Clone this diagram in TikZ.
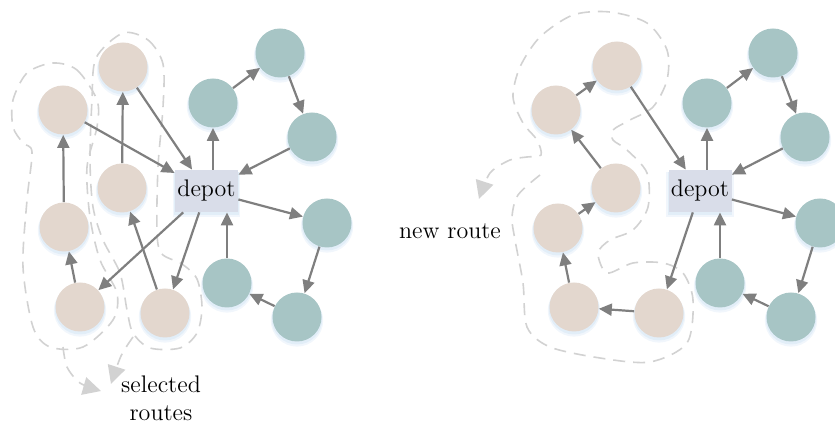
\documentclass[tikz,border=0pt]{standalone}
\usepackage{xcolor}
\usepackage{tikz}
\usetikzlibrary{arrows.meta,shadows}
\definecolor{RTbeige}{HTML}{E3D7CE}
\definecolor{RTteal}{HTML}{A7C5C5}
\definecolor{RTdepot}{HTML}{D9DDE9}
\definecolor{RTedge}{HTML}{7F7F7F}
\definecolor{RTdash}{HTML}{D2D2D2}
\definecolor{RTglow}{HTML}{C6DDF2}
\tikzset{
  glow/.style={general shadow={fill=RTglow, opacity=0.25, shadow scale=1.07, shadow yshift=-1.6pt},
               general shadow={fill=RTglow, opacity=0.35, shadow scale=1.03, shadow yshift=-1.1pt}},
  custnode/.style={circle, fill=RTbeige, minimum size=24.5pt, inner sep=0pt, glow},
  vehnode/.style={circle, fill=RTteal, minimum size=24.5pt, inner sep=0pt, glow},
  depotbox/.style={rectangle, fill=RTdepot, minimum width=31.5pt, minimum height=21pt, inner sep=0pt, font=\large, glow},
  routearr/.style={-{Triangle[length=6.5pt,width=6pt]}, line width=1.1pt, draw=RTedge},
  routeline/.style={draw=RTdash, line width=0.8pt, dash pattern=on 6pt off 4pt},
  routetip/.style={-{Triangle[length=9pt,width=9pt,fill=RTdash]}},
  lbl/.style={font=\large, align=center, inner sep=0pt}
}
\begin{document}
\begin{tikzpicture}[x=0.5pt,y=-0.5pt]
\useasboundingbox (0,0) rectangle (835,426);

% selected routes (left)
\draw[routeline] plot[smooth cycle] coordinates {(53,63) (77,70) (97,100) (97,127) (87,167) (90,217) (100,260) (117,293) (113,320) (83,347) (50,347) (33,327) (23,267) (27,200) (32,152) (23,143) (13,127) (13,100) (27,73)};
\draw[routeline] plot[smooth cycle] coordinates {(123,33) (148,40) (163,64) (163,107) (158,167) (157,233) (162,254) (182,264) (197,279) (202,307) (197,333) (180,348) (150,348) (133,333) (127,310) (120,273) (103,240) (93,207) (90,160) (92,100) (96,58)};
\draw[routeline, routetip] plot[smooth] coordinates {(63,347) (67,367) (80,383) (101,391)};
\draw[routeline, routetip] plot[smooth] coordinates {(133,337) (121,356) (111,384)};

% new route (right)
\draw[routeline, routetip] plot[smooth] coordinates {(540,175) (518,195) (512,217) (515,240) (523,283) (527,327) (550,347) (600,358) (650,362) (687,343) (693,300) (683,273) (663,263) (633,263) (607,273) (598,253) (610,240) (633,230) (648,207) (647,173) (627,150) (613,140) (613,130) (630,120) (653,107) (667,80) (667,50) (647,23) (610,12) (573,15) (540,37) (520,67) (513,97) (523,123) (537,140) (541,155) (527,157) (510,160) (490,173) (479,199)};

% left graph
\node[depotbox] (dep) at (206.5,191) {depot};
\node[custnode] (a1) at (63,110) {};
\node[custnode] (a2) at (123,67) {};
\node[custnode] (a3) at (122,188) {};
\node[custnode] (a4) at (64,227) {};
\node[custnode] (a5) at (80,307) {};
\node[custnode] (a6) at (165,313) {};
\node[vehnode] (t1) at (213,103) {};
\node[vehnode] (t2) at (280,53) {};
\node[vehnode] (t3) at (312,137) {};
\node[vehnode] (t4) at (327,223) {};
\node[vehnode] (t5) at (297,317) {};
\node[vehnode] (t6) at (227,283) {};

\draw[routearr] (a1) -- (dep);
\draw[routearr] (a2) -- (dep);
\draw[routearr] (a3) -- (a2);
\draw[routearr] (a4) -- (a1);
\draw[routearr] (a5) -- (a4);
\draw[routearr] (dep) -- (a5);
\draw[routearr] (dep) -- (a6);
\draw[routearr] (a6) -- (a3);
\draw[routearr] (dep.north -| t1) -- (t1);
\draw[routearr] (t1) -- (t2);
\draw[routearr] (t2) -- (t3);
\draw[routearr] (t3) -- (dep);
\draw[routearr] (dep) -- (t4);
\draw[routearr] (t4) -- (t5);
\draw[routearr] (t5) -- (t6);
\draw[routearr] (t6) -- (dep.south -| t6);

\node[lbl] (sel) at (161,398) {selected\\routes};

% right graph
\node[depotbox] (dep2) at (700,191) {depot};
\node[custnode] (b1) at (556,110) {};
\node[custnode] (b2) at (617,66) {};
\node[custnode] (b3) at (616,188) {};
\node[custnode] (b4) at (558,228) {};
\node[custnode] (b5) at (574,307) {};
\node[custnode] (b6) at (659,313) {};
\node[vehnode] (u1) at (707,103) {};
\node[vehnode] (u2) at (773,53) {};
\node[vehnode] (u3) at (805,137) {};
\node[vehnode] (u4) at (820,223) {};
\node[vehnode] (u5) at (791,317) {};
\node[vehnode] (u6) at (720,283) {};

\draw[routearr] (b2) -- (dep2);
\draw[routearr] (b1) -- (b2);
\draw[routearr] (b3) -- (b1);
\draw[routearr] (b4) -- (b3);
\draw[routearr] (b5) -- (b4);
\draw[routearr] (b6) -- (b5);
\draw[routearr] (dep2) -- (b6);
\draw[routearr] (dep2.north -| u1) -- (u1);
\draw[routearr] (u1) -- (u2);
\draw[routearr] (u2) -- (u3);
\draw[routearr] (u3) -- (dep2);
\draw[routearr] (dep2) -- (u4);
\draw[routearr] (u4) -- (u5);
\draw[routearr] (u5) -- (u6);
\draw[routearr] (u6) -- (dep2.south -| u6);

\node[lbl] (newr) at (450,231) {new route};
\end{tikzpicture}
\end{document}
